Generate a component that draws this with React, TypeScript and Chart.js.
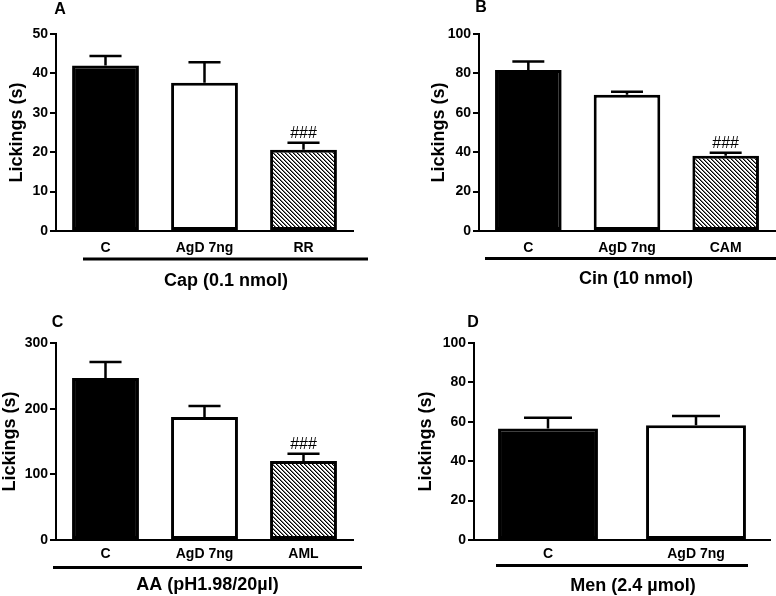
import React, { useEffect, useRef } from 'react';
import { Chart, registerables } from 'chart.js';

Chart.register(...registerables);

const FONT = "'Liberation Sans', Arial, Helvetica, sans-serif";

// ---------- Panel A ----------
const catsA = ['C', 'AgD 7ng', 'RR'];
const valsA = [42.0, 37.6, 20.6];
const errA = [2.4, 5.2, 1.8];
const marksA = ['', '', '###'];
const fillsA = ['black', 'white', 'hatch'];
const ticksA = [0, 10, 20, 30, 40, 50];
const groupA = 'Cap (0.1 nmol)';

// ---------- Panel B ----------
const catsB = ['C', 'AgD 7ng', 'CAM'];
const valsB = [81.7, 69.2, 38.2];
const errB = [4.3, 1.5, 1.5];
const marksB = ['', '', '###'];
const fillsB = ['black', 'white', 'hatch'];
const ticksB = [0, 20, 40, 60, 80, 100];
const groupB = 'Cin (10 nmol)';

// ---------- Panel C ----------
const catsC = ['C', 'AgD 7ng', 'AML'];
const valsC = [246.7, 187.4, 120.3];
const errC = [24.3, 16.6, 11.1];
const marksC = ['', '', '###'];
const fillsC = ['black', 'white', 'hatch'];
const ticksC = [0, 100, 200, 300];
const groupC = 'AA (pH1.98/20\u00b5l)';

// ---------- Panel D ----------
const catsD = ['C', 'AgD 7ng'];
const valsD = [56.6, 58.3];
const errD = [5.4, 4.7];
const marksD = ['', ''];
const fillsD = ['black', 'white'];
const ticksD = [0, 20, 40, 60, 80, 100];
const groupD = 'Men (2.4 \u00b5mol)';

const yTitle = 'Lickings (s)';

type Layout = {
  x: number; y: number; w: number; h: number;
  area: { l: number; t: number; r: number; b: number };
  yTitlePad: number; xPad: number;
  line: { x1: number; x2: number; y: number };
  group: { x: number; y: number };
  letter: { x: number; y: number };
};

type PanelData = {
  letter: string; cats: string[]; vals: number[]; errs: number[]; marks: string[];
  fills: string[]; ticks: number[]; group: string; layout: Layout;
};

const panels: PanelData[] = [
  {
    letter: 'A', cats: catsA, vals: valsA, errs: errA, marks: marksA, fills: fillsA, ticks: ticksA, group: groupA,
    layout: {
      x: 0, y: 0, w: 388, h: 296, area: { l: 56, t: 34, r: 353, b: 231 }, yTitlePad: 6, xPad: 9,
      line: { x1: 83, x2: 368, y: 259 }, group: { x: 226, y: 281 }, letter: { x: 60, y: 10 },
    },
  },
  {
    letter: 'B', cats: catsB, vals: valsB, errs: errB, marks: marksB, fills: fillsB, ticks: ticksB, group: groupB,
    layout: {
      x: 388, y: 0, w: 388, h: 296, area: { l: 91, t: 34, r: 387, b: 231 }, yTitlePad: 40, xPad: 9,
      line: { x1: 97, x2: 388, y: 258.5 }, group: { x: 248, y: 279 }, letter: { x: 93, y: 8 },
    },
  },
  {
    letter: 'C', cats: catsC, vals: valsC, errs: errC, marks: marksC, fills: fillsC, ticks: ticksC, group: groupC,
    layout: {
      x: 0, y: 296, w: 388, h: 300, area: { l: 56, t: 47, r: 353, b: 244 }, yTitlePad: -1, xPad: 6,
      line: { x1: 53, x2: 362, y: 271.5 }, group: { x: 207.5, y: 289 }, letter: { x: 57.5, y: 26.7 },
    },
  },
  {
    letter: 'D', cats: catsD, vals: valsD, errs: errD, marks: marksD, fills: fillsD, ticks: ticksD, group: groupD,
    layout: {
      x: 388, y: 296, w: 388, h: 300, area: { l: 86, t: 47, r: 382, b: 244 }, yTitlePad: 27, xPad: 6,
      line: { x1: 108, x2: 360, y: 269.5 }, group: { x: 245, y: 290 }, letter: { x: 85, y: 27 },
    },
  },
];

function makeHatch(ctx: CanvasRenderingContext2D): CanvasPattern | string {
  const c = document.createElement('canvas');
  c.width = 4;
  c.height = 4;
  const g = c.getContext('2d');
  if (!g) return '#888';
  const img = g.createImageData(4, 4);
  for (let yy = 0; yy < 4; yy++) {
    for (let xx = 0; xx < 4; xx++) {
      const d = (((xx - yy) % 4) + 4) % 4;
      const v = d === 0 ? 0 : d === 1 ? 120 : 255;
      const k = (yy * 4 + xx) * 4;
      img.data[k] = v;
      img.data[k + 1] = v;
      img.data[k + 2] = v;
      img.data[k + 3] = 255;
    }
  }
  g.putImageData(img, 0, 0);
  return ctx.createPattern(c, 'repeat') || '#888';
}

function Panel({ p }: { p: PanelData }) {
  const ref = useRef<HTMLCanvasElement>(null);
  const L = p.layout;

  useEffect(() => {
    const canvas = ref.current;
    if (!canvas) return;
    const ctx0 = canvas.getContext('2d');
    if (!ctx0) return;
    const hatch = makeHatch(ctx0);
    const colors = p.fills.map((f) => (f === 'black' ? '#000' : f === 'white' ? '#fff' : hatch));

    const overlay = {
      id: 'overlay' + p.letter,
      afterDatasetsDraw(chart: any) {
        const ctx = chart.ctx as CanvasRenderingContext2D;
        const meta = chart.getDatasetMeta(0);
        const ys = chart.scales.y;
        ctx.save();
        ctx.strokeStyle = '#000';
        ctx.fillStyle = '#000';
        ctx.lineWidth = 2.5;
        meta.data.forEach((el: any, i: number) => {
          const props = el.getProps(['x', 'y', 'width'], true);
          const eTop = ys.getPixelForValue(p.vals[i] + p.errs[i]);
          const half = props.width * 0.24;
          ctx.beginPath();
          ctx.moveTo(props.x, props.y);
          ctx.lineTo(props.x, eTop);
          ctx.moveTo(props.x - half, eTop);
          ctx.lineTo(props.x + half, eTop);
          ctx.stroke();
          if (p.marks[i]) {
            ctx.font = `16px ${FONT}`;
            ctx.textAlign = 'center';
            ctx.textBaseline = 'middle';
            ctx.fillText(p.marks[i], props.x, eTop - 9);
          }
        });
        ctx.restore();
      },
      afterDraw(chart: any) {
        const ctx = chart.ctx as CanvasRenderingContext2D;
        ctx.save();
        ctx.strokeStyle = '#000';
        ctx.fillStyle = '#000';
        ctx.lineWidth = 3;
        ctx.beginPath();
        ctx.moveTo(L.line.x1, L.line.y);
        ctx.lineTo(L.line.x2, L.line.y);
        ctx.stroke();
        ctx.textAlign = 'center';
        ctx.textBaseline = 'middle';
        ctx.font = `bold 18px ${FONT}`;
        ctx.fillText(p.group, L.group.x, L.group.y);
        ctx.font = `bold 16px ${FONT}`;
        ctx.fillText(p.letter, L.letter.x, L.letter.y);
        ctx.restore();
      },
    };

    const chart = new Chart(canvas, {
      type: 'bar',
      data: {
        labels: p.cats,
        datasets: [
          {
            data: p.vals,
            backgroundColor: colors as any,
            borderColor: '#000',
            borderWidth: 3,
            borderSkipped: false,
            barPercentage: 0.675,
            categoryPercentage: 1,
          },
        ],
      },
      options: {
        responsive: false,
        animation: false,
        devicePixelRatio: 1,
        layout: { padding: { left: 0, top: L.area.t, right: L.w - L.area.r, bottom: 0 } },
        plugins: {
          legend: { display: false },
          tooltip: { enabled: false },
          title: { display: false },
        },
        scales: {
          x: {
            type: 'category',
            offset: true,
            grid: { display: false, drawTicks: false },
            border: { display: true, color: '#000', width: 2 },
            ticks: {
              color: '#000',
              font: { family: FONT, size: 14, weight: 'bold' },
              padding: L.xPad,
              maxRotation: 0,
              autoSkip: false,
            },
            afterFit: (s: any) => {
              s.height = L.h - L.area.b;
            },
          },
          y: {
            min: p.ticks[0],
            max: p.ticks[p.ticks.length - 1],
            afterBuildTicks: (s: any) => {
              s.ticks = p.ticks.map((v) => ({ value: v }));
            },
            grid: {
              display: true,
              drawOnChartArea: false,
              drawTicks: true,
              tickLength: 6,
              color: '#000',
              lineWidth: 2,
            },
            border: { display: true, color: '#000', width: 2 },
            ticks: {
              color: '#000',
              font: { family: FONT, size: 14, weight: 'bold' },
              padding: 2,
            },
            title: {
              display: true,
              text: yTitle,
              color: '#000',
              font: { family: FONT, size: 18, weight: 'bold' },
              padding: { top: L.yTitlePad, bottom: 0 },
            },
            afterFit: (s: any) => {
              s.width = L.area.l;
            },
          },
        },
      } as any,
      plugins: [overlay],
    });
    return () => chart.destroy();
  }, []);

  return (
    <canvas
      ref={ref}
      width={L.w}
      height={L.h}
      style={{ position: 'absolute', left: L.x, top: L.y, width: L.w, height: L.h }}
    />
  );
}

export default function App() {
  return (
    <div
      style={{
        position: 'fixed',
        left: 0,
        top: 0,
        width: 776,
        height: 596,
        background: '#fff',
        overflow: 'hidden',
      }}
    >
      {panels.map((p) => (
        <Panel key={p.letter} p={p} />
      ))}
    </div>
  );
}
